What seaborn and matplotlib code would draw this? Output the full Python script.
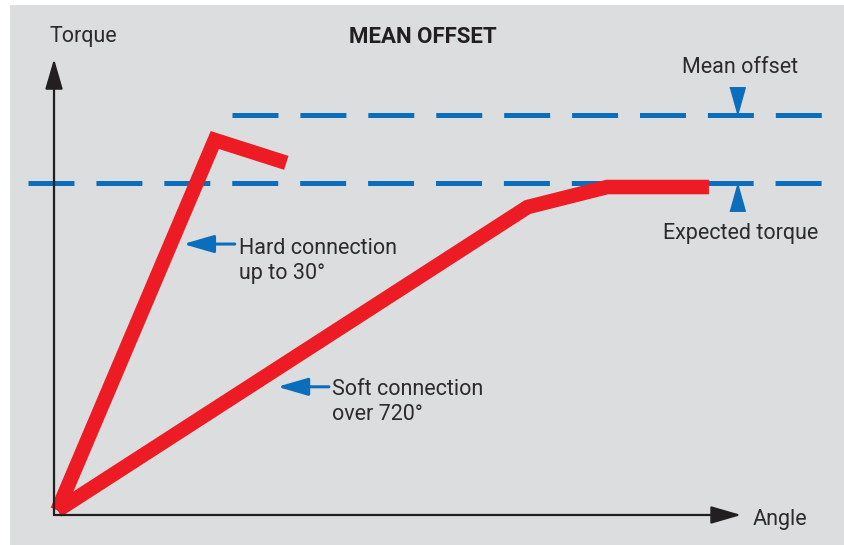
import pandas as pd
import seaborn as sns
import matplotlib.pyplot as plt
from matplotlib.patches import Rectangle

# schematic data (angle and torque in arbitrary units, axes run 0..100)
hard_angle = [0.5, 23.4, 33.8]
hard_torque = [1.0, 82.2, 77.2]
soft_angle = [0.5, 68.9, 80.5, 95.3]
soft_torque = [1.0, 67.5, 71.9, 71.9]

expected_torque = 72.8
mean_offset_torque = 87.7
expected_span = [-3.8, 111.8]
offset_span = [25.9, 111.8]
marker_angle = 99.4

hard_label = 'Hard connection\nup to 30°'
soft_label = 'Soft connection\nover 720°'
hard_arrow = [(18.8, 59.4), (26.3, 59.4)]   # tip, tail
soft_arrow = [(32.5, 28.1), (40.0, 28.1)]

red = '#ed1c24'
blue = '#0a6ebd'
ink = '#231f20'
text_col = '#2b2b2b'
bg = '#dcdddf'

sns.set_theme(style='white')
plt.rcParams['font.family'] = ['Roboto', 'DejaVu Sans']
plt.rcParams['lines.scale_dashes'] = False

fig = plt.figure(figsize=(8.45, 5.45), dpi=100)
fig.patch.set_facecolor('white')
ax = fig.add_axes([0, 0, 1, 1])
ax.set_facecolor('none')
ax.set_xlim(-7.86, 115.1)
ax.set_ylim(-6.58, 112.9)
ax.axis('off')
# grey panel behind the drawing
ax.add_patch(Rectangle((10 / 845, 0), 835 / 845, 540 / 545,
                       transform=ax.transAxes, facecolor=bg,
                       edgecolor='none', zorder=0))

# dashed reference lines
dash = (0, (33.1, 15.8))
ax.plot(expected_span, [expected_torque] * 2, color=blue, lw=3.6,
        linestyle=dash, dash_capstyle='butt', zorder=2)
ax.plot(offset_span, [mean_offset_torque] * 2, color=blue, lw=3.6,
        linestyle=dash, dash_capstyle='butt', zorder=2)

# torque curves
curves = pd.concat([
    pd.DataFrame({'angle': hard_angle, 'torque': hard_torque, 'joint': 'hard'}),
    pd.DataFrame({'angle': soft_angle, 'torque': soft_torque, 'joint': 'soft'}),
])
sns.lineplot(data=curves, x='angle', y='torque', units='joint', estimator=None,
             sort=False, color=red, lw=10.5, ax=ax, zorder=3,
             solid_joinstyle='miter', solid_capstyle='butt')

# axes arrows
axis_arrow = dict(arrowstyle='-|>,head_length=0.93,head_width=0.27',
                  mutation_scale=20, lw=1.6, color=ink, shrinkA=0, shrinkB=0)
ax.annotate('', xy=(0, 100), xytext=(0, 0), arrowprops=axis_arrow, zorder=4)
ax.annotate('', xy=(100, 0), xytext=(0, 0), arrowprops=axis_arrow, zorder=4)

# pointer arrows
pointer = dict(arrowstyle='-|>,head_length=0.93,head_width=0.27',
               mutation_scale=20, lw=2.2, color=blue, shrinkA=0, shrinkB=0)
for tip, tail in [hard_arrow, soft_arrow]:
    ax.annotate('', xy=tip, xytext=tail, arrowprops=pointer, zorder=4)

# offset markers
ax.plot([marker_angle], [mean_offset_torque], linestyle='none', color=blue,
        marker=[(-0.28, 1), (0.28, 1), (0, 0)], markersize=40, zorder=4)
ax.plot([marker_angle], [expected_torque], linestyle='none', color=blue,
        marker=[(-0.28, -1), (0.28, -1), (0, 0)], markersize=40, zorder=4)

fs = 15.5
ax.text(4.2, 104.8, 'Torque', fontsize=fs, color=text_col, ha='center', va='center')
ax.text(53.7, 104.8, 'MEAN OFFSET', fontsize=16, color=ink, ha='center',
        va='center', fontweight='bold')
ax.text(101.6, -0.9, 'Angle', fontsize=fs, color=text_col, ha='left', va='center')
ax.text(99.9, 98.1, 'Mean offset', fontsize=fs, color=text_col, ha='center', va='center')
ax.text(99.9, 61.8, 'Expected torque', fontsize=fs, color=text_col, ha='center', va='center')
ax.text(26.9, 55.7, hard_label, fontsize=fs, color=text_col, ha='left',
        va='center', linespacing=1.25)
ax.text(40.5, 24.7, soft_label, fontsize=fs, color=text_col, ha='left',
        va='center', linespacing=1.25)

fig.savefig('out.png', dpi=100, facecolor='white')
